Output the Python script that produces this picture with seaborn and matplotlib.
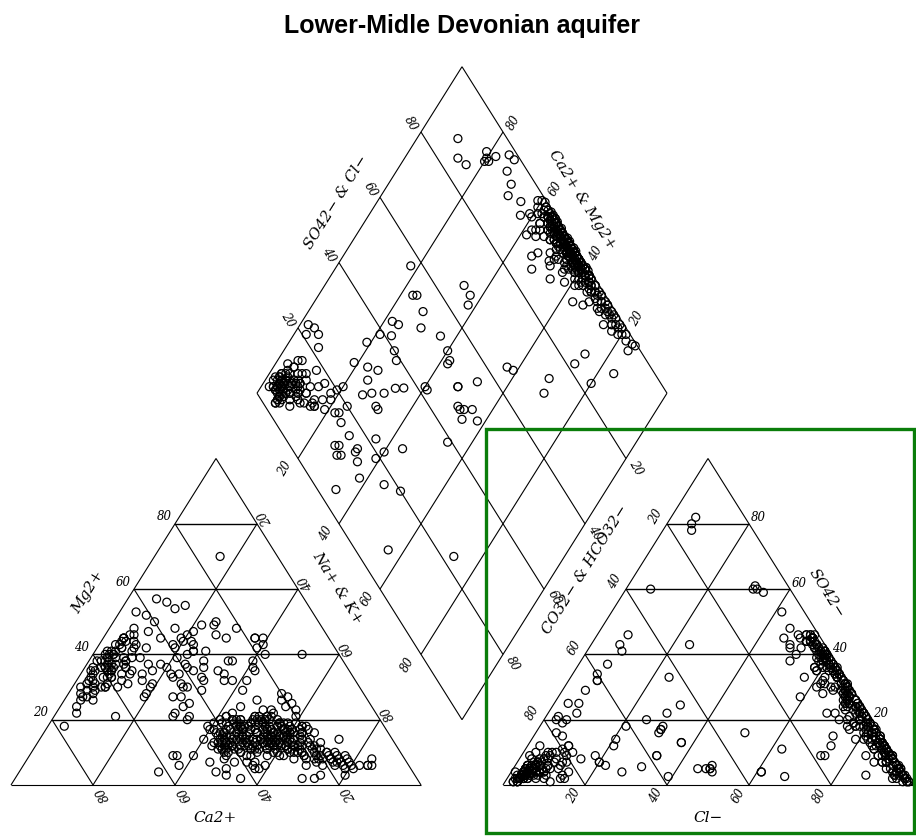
import numpy as np
import pandas as pd
import matplotlib
matplotlib.use("Agg")
import matplotlib.pyplot as plt
import seaborn as sns
from matplotlib.patches import Rectangle

sns.set_theme(style="white")
plt.rcParams['font.family'] = ['DejaVu Sans']

TITLE = "Lower-Midle Devonian aquifer"

# ---- sample compositions (meq %) ----
# group A : Na-Cl / Na-SO4 waters (dense bands)
grpA_na = [39, 40, 41, 41, 42, 42, 43, 43, 44, 44, 45, 45, 46, 46, 47, 47, 48, 48, 49, 49,
           50, 50, 51, 51, 52, 52, 53, 53, 54, 54, 55, 55, 56, 56, 57, 57, 58, 58, 59, 59,
           60, 60, 61, 61, 62, 62, 63, 63, 64, 64, 65, 65, 66, 66, 67, 67, 68, 68, 69, 69,
           70, 70, 71, 71, 72, 72, 73, 73, 74, 74, 75, 75, 76, 76, 77, 77, 78, 78, 79, 79,
           80, 81, 82, 84, 84, 85, 44, 47, 50, 52, 46, 54, 58, 48, 63, 43, 40, 43, 47, 51,
           53, 56, 59, 56, 64, 66, 40, 44, 49, 52, 60, 58, 55, 53,
           42, 43, 44, 45, 46, 47, 48, 49, 50, 51, 52, 53, 54, 55, 56, 57, 58, 59, 60, 61,
           62, 63, 64, 65, 66,
           44, 45, 46, 47, 48, 49, 50, 51, 52, 53, 54, 55, 56, 57, 58, 59, 60, 61, 62, 63, 64,
           43, 45, 47, 49, 51, 53, 55, 57, 59, 61, 63, 65, 67, 69, 71,
           46, 48, 50, 52, 54, 56, 58, 60, 62,
           42, 44, 46, 48, 50, 52, 54, 56, 58, 60, 62, 64, 66, 68, 70, 72, 74, 76,
           45, 47, 49, 51, 53, 55, 57, 59, 61, 63,
           44, 45, 46, 47, 48, 49, 50, 51, 52, 53, 54, 55, 56, 57, 58, 59, 60, 61, 62, 63,
           44, 45, 46, 47, 48, 49, 50, 51, 52, 53, 54, 55, 56, 57, 58, 59, 60, 61, 62, 63,
           46, 47, 48, 49, 50, 51, 52, 53, 54, 55, 56, 57, 58, 59, 60,
           46, 47, 48, 49, 50, 51, 52, 53, 54, 55, 56, 57, 58, 59, 60]
grpA_mg = [18, 14, 20, 17, 16, 21, 12, 19, 15, 13, 17, 13, 20, 11, 16, 14, 18, 12, 21, 15,
           13, 17, 10, 19, 14, 16, 12, 18, 15, 11, 17, 13, 14, 19, 11, 16, 13, 9, 15, 12,
           14, 10, 16, 12, 9, 14, 11, 15, 10, 13, 8, 12, 10, 14, 9, 12, 8, 11, 10, 13,
           8, 11, 9, 7, 10, 8, 9, 6, 8, 10, 7, 9, 6, 8, 7, 9, 6, 8, 5, 7,
           6, 5, 6, 6, 6, 6, 24, 26, 23, 21, 11, 27, 19, 8, 18, 15, 17, 22, 10, 7,
           9, 7, 18, 25, 17, 16, 19, 18, 11, 28, 17, 23, 24, 26,
           19, 13, 17, 11, 20, 15, 12, 18, 14, 10, 16, 20, 12, 15, 19, 11, 17, 13, 16, 12,
           18, 10, 14, 11, 13,
           14, 20, 12, 17, 10, 19, 15, 13, 21, 11, 16, 14, 18, 12, 15, 10, 17, 13, 11, 16, 12,
           16, 12, 18, 14, 20, 11, 15, 13, 17, 9, 12, 10, 9, 11, 8,
           13, 17, 11, 19, 14, 16, 12, 15, 18,
           21, 16, 18, 14, 20, 12, 17, 15, 13, 19, 11, 14, 10, 12, 9, 10, 8, 7,
           15, 11, 19, 13, 17, 10, 14, 21, 12, 16,
           16, 19, 13, 18, 15, 21, 12, 17, 20, 14, 18, 13, 16, 19, 12, 15, 17, 14, 13, 16,
           20, 14, 18, 12, 17, 15, 19, 13, 16, 21, 14, 17, 12, 18, 15, 13, 16, 14, 17, 12,
           15, 18, 12, 20, 16, 14, 19, 13, 17, 11, 15, 18, 14, 16, 12,
           19, 13, 17, 15, 21, 12, 16, 18, 14, 20, 13, 15, 17, 11, 16]
grpA_so4 = [42, 12, 30, 5, 38, 22, 45, 8, 27, 35, 17, 40, 3, 24, 33, 10, 44, 19, 28, 6,
            37, 14, 41, 25, 2, 31, 20, 39, 9, 46, 26, 16, 34, 4, 23, 42, 13, 29, 36, 7,
            21, 43, 11, 32, 18, 1, 39, 27, 15, 35, 5, 24, 41, 12, 30, 19, 8, 37, 22, 3,
            33, 14, 26, 44, 10, 29, 17, 38, 6, 24, 13, 34, 20, 2, 28, 11, 40, 16, 7, 31,
            21, 4, 14, 9, 25, 1, 20, 33, 9, 45, 15, 38, 22, 27, 42, 31, 36, 18, 44, 12,
            36, 19, 3, 29, 45, 17, 25, 10, 38, 7, 40, 25, 14, 31,
            3, 28, 15, 41, 9, 34, 22, 46, 1, 18, 37, 12, 29, 6, 43, 25, 14, 39, 20, 32,
            8, 44, 17, 27, 35,
            45, 19, 7, 31, 24, 2, 38, 13, 27, 42, 10, 21, 35, 4, 16, 30, 45, 9, 23, 37, 12,
            26, 5, 40, 16, 33, 11, 46, 23, 3, 36, 19, 28, 8, 41, 15,
            20, 30, 36, 14, 42, 7, 24, 33, 11,
            13, 37, 2, 24, 44, 18, 31, 7, 39, 26, 14, 45, 21, 5, 34, 11, 29, 18,
            9, 25, 43, 17, 4, 35, 28, 12, 40, 22,
            6, 33, 18, 44, 11, 27, 39, 2, 23, 15, 36, 8, 29, 41, 20, 4, 31, 13, 45, 25,
            38, 10, 26, 1, 42, 17, 30, 7, 35, 21, 12, 44, 5, 28, 16, 39, 9, 24, 33, 19,
            14, 37, 3, 22, 45, 9, 30, 18, 40, 26, 5, 34, 12, 43, 20,
            28, 1, 16, 38, 11, 24, 46, 7, 32, 19, 41, 3, 27, 14, 36]
grpA_hco3 = [2, 1, 4, 0.5, 3, 2, 5, 1, 2, 6, 1, 3, 0.5, 4, 2, 1, 3, 5, 1, 2,
             4, 1, 2, 3, 0.5, 6, 1, 2, 3, 1, 4, 2, 1, 2, 5, 3, 1, 2, 1, 4,
             2, 3, 1, 6, 2, 0.5, 1, 3, 2, 1, 4, 2, 3, 1, 2, 5, 1, 2, 3, 1,
             2, 4, 1, 3, 2, 1, 3, 2, 1, 5, 2, 1, 3, 1, 2, 4, 1, 2, 3, 1,
             2, 1, 2, 1, 3, 0.5, 8, 10, 7, 9, 12, 11, 8, 14, 9, 7, 6, 5, 4, 3,
             6, 2, 1, 5, 2, 7, 3, 2, 4, 1, 2, 4, 3, 2,
             1, 3, 0.5, 2, 4, 1, 2, 3, 1, 5, 2, 1, 3, 0.5, 2, 4, 1, 2, 3, 1,
             2, 4, 1, 2, 3,
             2, 1, 3, 0.5, 2, 4, 1, 2, 3, 1, 2, 5, 1, 2, 3, 1, 2, 0.5, 3, 1, 2,
             3, 1, 2, 4, 1, 2, 3, 1, 2, 0.5, 1, 3, 2, 1, 4,
             6, 5, 4, 7, 3, 6, 2, 5, 4,
             1, 2, 3, 1, 2, 4, 1, 3, 2, 1, 5, 2, 1, 3, 2, 1, 2, 3,
             0.5, 1, 2, 1, 3, 2, 1, 4, 2, 1,
             1, 2, 0.5, 3, 1, 2, 4, 1, 2, 0.5, 3, 1, 2, 1, 3, 2, 1, 4, 2, 1,
             2, 1, 3, 1, 2, 0.5, 1, 3, 2, 1, 2, 4, 1, 2, 1, 3, 2, 1, 2, 1,
             2, 1, 3, 1, 2, 4, 1, 2, 1, 3, 0.5, 2, 1, 2, 3,
             1, 2, 1, 3, 2, 1, 2, 4, 1, 2, 1, 3, 2, 1, 2]

# group B : Ca-Mg-HCO3 waters
grpB_na = [7, 4, 7, 10, 6, 10, 14, 5, 16, 19, 9, 9, 5, 3, 2, 4, 5, 7, 4, 5,
           4, 15, 5, 7, 10, 12, 15, 17, 16, 19, 13, 20, 22, 8, 6, 3, 8, 10, 12, 15,
           19, 18, 15, 23, 24, 3, 6, 2, 8, 4, 12, 9, 6, 11, 5, 7,
           3, 5, 6, 8, 4, 7, 9, 2, 5, 6, 10, 3, 4, 8, 7, 5, 11, 6, 9, 4,
           3, 7, 5, 8, 6, 10, 4, 12, 6, 5,
           4, 6, 3, 5, 7, 2, 5, 8, 4, 6, 3, 7, 5, 4, 6, 9, 3, 5, 7, 4]
grpB_mg = [57, 53, 52, 50, 48, 47, 45, 45, 48, 45, 43, 41, 41, 38, 35, 32, 27, 26, 24, 22,
           18, 21, 36, 37, 36, 39, 37, 35, 32, 27, 31, 36, 34, 30, 29, 31, 33, 34, 35, 34,
           31, 37, 55, 43, 41, 28, 39, 30, 44, 36, 42, 38, 33, 30, 40, 46,
           40, 37, 44, 33, 29, 35, 42, 38, 31, 46, 36, 34, 27, 39, 30, 43, 32, 28, 37, 41,
           33, 36, 45, 30, 35, 39, 26, 34, 42, 38,
           38, 42, 35, 40, 33, 36, 44, 31, 39, 37, 41, 34, 30, 43, 36, 38, 32, 45, 35, 40]
grpB_so4 = [4, 6, 3, 8, 2, 5, 9, 3, 6, 11, 4, 7, 2, 5, 1, 3, 6, 4, 2, 8,
            3, 10, 4, 7, 2, 6, 5, 9, 3, 8, 4, 12, 7, 5, 1, 4, 9, 3, 6, 2,
            5, 7, 4, 6, 10, 16, 19, 20, 15, 21, 1, 2, 3, 4, 12, 10,
            3, 5, 2, 6, 4, 1, 7, 3, 5, 2, 4, 6, 3, 8, 2, 5, 3, 6, 4, 2,
            5, 3, 7, 4, 2, 6, 3, 5, 1, 4,
            4, 2, 6, 3, 5, 4, 2, 7, 3, 5, 2, 4, 6, 3, 1, 5, 4, 2, 3, 6]
grpB_hco3 = [91, 90, 93, 86, 95, 90, 84, 92, 88, 80, 89, 88, 94, 92, 96, 94, 91, 90, 93, 87,
             95, 82, 93, 89, 91, 86, 87, 85, 88, 83, 90, 78, 84, 92, 97, 95, 89, 94, 91, 89,
             86, 82, 88, 83, 80, 79, 76, 77, 78, 76, 88, 85, 84, 82, 85, 87,
             93, 90, 95, 89, 92, 96, 88, 94, 91, 93, 90, 88, 94, 86, 95, 92, 91, 90, 93, 95,
             91, 94, 87, 92, 96, 89, 93, 88, 97, 92,
             92, 94, 91, 93, 90, 93, 95, 88, 94, 91, 95, 92, 89, 93, 96, 90, 92, 94, 93, 89]

# group C : mixed / intermediate waters
grpC_na = [10, 16, 13, 20, 21, 19, 20, 22, 25, 27, 27, 30, 31, 35, 37, 39, 42, 41.5, 51, 56,
           73, 74, 80, 84, 69, 70, 57, 59, 52, 48, 48, 51, 52, 53, 54, 55, 58, 54, 34, 37,
           38, 36, 40, 42, 42, 18, 23, 24, 22, 24, 28, 30, 27, 29, 21, 24, 19, 19, 23, 25,
           26, 31, 32, 26, 28, 31, 33, 35, 40, 41, 44, 36, 27, 28, 29, 30, 29, 33, 34, 35,
           40, 50, 73, 56, 33, 38, 45, 25, 39]
grpC_mg = [56, 70, 54, 44, 47, 42, 46, 49, 50, 41, 46, 45, 48, 38, 45, 42, 29, 32, 40, 18,
           14, 3, 3, 8, 6, 2, 5, 6, 23, 4, 9, 3, 20, 22, 7, 2, 5, 9, 38, 45,
           32, 32, 43, 40, 35, 43, 40, 34, 44, 41, 38, 33, 35, 36, 39, 37, 30, 28, 33, 36,
           31, 32, 29, 27, 30, 25, 35, 34, 38, 36, 20, 9, 30, 27, 21, 24, 22, 21, 4, 9,
           9, 5, 2, 6, 20, 6, 7, 49, 45]
grpC_so4 = [82, 80, 78, 60, 61, 59, 60, 53, 46, 40, 46, 48, 43, 42, 40, 35, 28, 22, 30, 18,
            9, 12, 9, 3, 11, 2.6, 4, 60, 24.5, 43, 13, 17, 17, 18, 16, 13, 41, 32, 43, 16,
            4, 46, 5, 5, 22, 33, 5, 6, 37, 20, 4, 5, 34, 32, 18, 2.6, 29, 25, 25, 22,
            12, 4, 7, 20, 6, 9, 14, 5.6, 9, 9, 7, 10, 4, 6, 3, 8, 10, 5, 2, 6,
            12, 9, 8, 3, 8, 4, 10, 2, 7]
grpC_hco3 = [12, 14, 15, 8, 8, 7, 9, 5.5, 2, 1.5, 5, 6, 8.5, 6.3, 8.5, 6, 8, 10, 8.5, 7,
             18, 14, 17, 10, 26.5, 30, 35, 34, 44.5, 50, 50, 53, 53, 52, 54, 50, 50.5, 61, 33, 33,
             35, 46.5, 47, 48, 49, 43, 47, 46, 56, 55, 47, 50, 60, 61, 61, 58.4, 65.4, 71.6, 69, 71,
             67, 69, 73, 74.5, 72, 73, 65.5, 63.4, 58, 58, 73, 78, 89, 88, 90, 89, 84, 84, 95.5, 86,
             78, 80, 77, 92, 85, 88, 83, 84, 81]

na_pct = np.array(grpA_na + grpB_na + grpC_na, dtype=float)
mg_pct = np.array(grpA_mg + grpB_mg + grpC_mg, dtype=float)
so4_pct = np.array(grpA_so4 + grpB_so4 + grpC_so4, dtype=float)
hco3_pct = np.array(grpA_hco3 + grpB_hco3 + grpC_hco3, dtype=float)
ca_pct = 100 - na_pct - mg_pct
cl_pct = 100 - so4_pct - hco3_pct

tick_vals = [20, 40, 60, 80]

# ---- geometry ----
H = np.sqrt(3) / 2
GAP = 0.2
B = np.array([1 + GAP / 2, GAP / 2 * np.sqrt(3)])
L = B + np.array([-0.5, H])
T = B + np.array([0.0, 2 * H])
R = B + np.array([0.5, H])
OX = 1 + GAP  # anion triangle offset


def cat_xy(na, mg):
    return na / 100 + 0.5 * mg / 100, mg / 100 * H


def an_xy(cl, so4):
    return OX + cl / 100 + 0.5 * so4 / 100, so4 / 100 * H


def dia_xy(na, s):
    a = na / 100
    s = s / 100
    p = L[None, :] + np.outer(a, B - L) + np.outer(s, T - L)
    return p[:, 0], p[:, 1]


fig = plt.figure(figsize=(9.16, 8.37), dpi=100)
ax = fig.add_axes([0, 0, 1, 1])
XL = (-0.02683, 2.2073)
YL = (-0.1353, 2.0849)
LW = 0.8


def seg(p, q, lw=LW):
    ax.plot([p[0], q[0]], [p[1], q[1]], color='black', lw=lw, solid_capstyle='butt', zorder=1)


# triangles
for ox in (0.0, OX):
    A0 = np.array([ox, 0]); A1 = np.array([ox + 1, 0]); A2 = np.array([ox + 0.5, H])
    seg(A0, A1); seg(A1, A2); seg(A2, A0)
    for v in tick_vals:
        k = v / 100
        seg((ox + k / 2, k * H), (ox + 1 - k / 2, k * H), lw=1.0)
        seg((ox + k, 0), (ox + k / 2, k * H))
        seg((ox + k, 0), (ox + (1 + k) / 2, (1 - k) * H))
# diamond
seg(L, T); seg(T, R); seg(R, B); seg(B, L)
for v in tick_vals:
    k = v / 100
    seg(L + k * (B - L), T + k * (R - T))
    seg(L + k * (T - L), B + k * (R - B))

# ---- points ----
cx, cy = cat_xy(na_pct, mg_pct)
axx, ayy = an_xy(cl_pct, so4_pct)
dx, dy = dia_xy(na_pct, so4_pct + cl_pct)
pts = pd.DataFrame({
    'x': np.concatenate([cx, axx, dx]),
    'y': np.concatenate([cy, ayy, dy]),
})
sns.scatterplot(data=pts, x='x', y='y', ax=ax, s=33, marker='o',
                facecolors='none', edgecolor='black', linewidth=0.9,
                legend=False, zorder=3)
for coll in ax.collections:
    coll.set_facecolor('none')
ax.set_xlim(*XL)
ax.set_ylim(*YL)
ax.set_axis_off()

# ---- tick labels ----
TF = dict(family='DejaVu Serif', style='italic', fontsize=8.5, color='black',
          ha='center', va='center', textcoords='offset points', zorder=4)
PX = 0.72


def tl(txt, xy, dpx, dpy, rot=0):
    ax.annotate(txt, xy=(xy[0], xy[1]), xytext=(dpx * PX, dpy * PX), rotation=rot,
                rotation_mode='anchor', **TF)


for v in tick_vals:
    k = v / 100
    tl(str(v), (k / 2, k * H), -11, 8)                         # Mg, left edge
    tl(str(100 - v), (1 - k / 2, k * H), 8, 7, 120)            # Na+K, right edge
    tl(str(100 - v), (k, 0), 10, -8, 120)                      # Ca, base
    tl(str(100 - v), (OX + k / 2, k * H), -11, 8, 60)          # CO3+HCO3, left edge
    tl(str(v), (OX + 1 - k / 2, k * H), 9, 7)                  # SO4, right edge
    tl(str(v), (OX + k, 0), -11, -10, 60)                      # Cl, base
    p = L + k * (T - L); tl(str(v), p, -10, 9, -60)            # SO4+Cl
    p = T + k * (R - T); tl(str(100 - v), p, 11, 10, 60)       # Ca+Mg
    p = L + k * (B - L); tl(str(v), p, -13, -9, 60)            # Na+K
    p = B + k * (R - B); tl(str(100 - v), p, 10, -8, -60)      # CO3+HCO3

# ---- axis labels (positions in pixels) ----
W, Hf = 916, 837
AF = dict(family='DejaVu Serif', style='italic', fontsize=11, color='black',
          ha='center', va='center', rotation_mode='anchor')


def al(txt, px, py, rot=0):
    fig.text(px / W, 1 - py / Hf, txt, rotation=rot, **AF)


ANG = 58
al("Ca2+", 215, 818)
al("Cl\u2212", 708, 818)
al("Mg2+", 88, 592, ANG)
al("Na+ & K+", 338, 588, -ANG)
al("SO42\u2212 & Cl\u2212", 336, 202, ANG)
al("Ca2+ & Mg2+", 582, 200, -ANG)
al("CO32\u2212 & HCO32\u2212", 585, 570, ANG)
al("SO42\u2212", 827, 593, -ANG)

fig.text(462 / W, 1 - 26 / Hf, TITLE, family='Liberation Sans', fontweight='bold',
         fontsize=18, color='black', ha='center', va='center')

# green highlight box
fig.patches.append(Rectangle((486.5 / W, 1 - 833.5 / Hf), (913.5 - 486.5) / W,
                             (833.5 - 429.5) / Hf, transform=fig.transFigure,
                             fill=False, edgecolor='#0a7d0a', lw=2.4, zorder=10))

fig.savefig('out.png', dpi=100)
